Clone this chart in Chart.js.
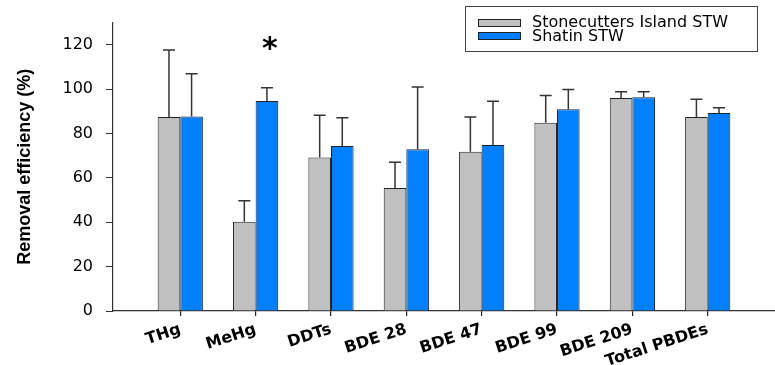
<!DOCTYPE html>
<html>
<head>
<meta charset="utf-8">
<script src="https://cdn.jsdelivr.net/npm/chart.js@4.4.1/dist/chart.umd.min.js"></script>
<style>
  html, body { margin: 0; padding: 0; background: #fff; }
  #wrap { width: 775px; height: 365px; }
</style>
</head>
<body>
<div id="wrap"><canvas id="myChart"></canvas></div>
<script>
const categories = ['THg', 'MeHg', 'DDTs', 'BDE 28', 'BDE 47', 'BDE 99', 'BDE 209', 'Total PBDEs']
const stonecutters = [87.5, 40.2, 69.2, 55.5, 71.8, 84.8, 96.0, 87.5]
const stonecuttersErr = [30.2, 9.5, 19.0, 11.5, 15.7, 12.3, 2.8, 7.9]
const shatin = [87.7, 94.7, 74.4, 72.9, 74.8, 90.9, 96.3, 89.3]
const shatinErr = [19.2, 5.9, 12.7, 28.1, 19.7, 8.9, 2.5, 2.3]
const sigMarks = ['', '*', '', '', '', '', '', '']
const yTicks = [0, 20, 40, 60, 80, 100, 120]

const ctx = document.getElementById('myChart').getContext('2d');

// upward error bars only
const errorBars = {
    id: 'errorBars',
    afterDatasetsDraw(chart) {
        const c = chart.ctx
        const y = chart.scales.y
        chart.data.datasets.forEach((ds, di) => {
            chart.getDatasetMeta(di).data.forEach((bar, i) => {
                const top = y.getPixelForValue(ds.data[i].y + ds.errors[i])
                c.save()
                c.strokeStyle = '#333'
                c.lineWidth = 1.5
                c.beginPath()
                c.moveTo(bar.x, bar.y)
                c.lineTo(bar.x, top)
                c.moveTo(bar.x - 6, top)
                c.lineTo(bar.x + 6, top)
                c.stroke()
                c.restore()
            })
        })
        // significance marks above the Shatin bar
        const meta = chart.getDatasetMeta(1)
        const ds = chart.data.datasets[1]
        sigMarks.forEach((m, i) => {
            if (!m) return
            const bar = meta.data[i]
            const top = y.getPixelForValue(ds.data[i].y + ds.errors[i])
            c.save()
            c.fillStyle = '#000'
            c.font = 'bold 30px "DejaVu Sans"'
            c.textAlign = 'center'
            c.textBaseline = 'middle'
            c.fillText(m, bar.x + 3, top - 38)
            c.restore()
        })
    }
}

// boxed legend in the top right corner
const boxLegend = {
    id: 'boxLegend',
    afterDraw(chart) {
        const c = chart.ctx
        c.save()
        c.strokeStyle = '#444'
        c.lineWidth = 1
        c.strokeRect(465.5, 6.5, 292, 45)
        chart.data.datasets.forEach((ds, k) => {
            c.fillStyle = ds.backgroundColor
            c.fillRect(478, 19 + k * 13, 42, 7)
            c.strokeStyle = '#222'
            c.strokeRect(478.5, 19.5 + k * 13, 42, 7)
            c.fillStyle = '#000'
            c.font = '16px "DejaVu Sans"'
            c.textBaseline = 'middle'
            c.fillText(ds.label, 532, 23 + k * 13.5)
        })
        c.restore()
    }
}

new Chart(ctx, {
    type: 'bar',
    data: {
        datasets: [{
            label: 'Stonecutters Island STW',
            data: stonecutters.map((v, i) => ({ x: i, y: v })),
            errors: stonecuttersErr,
            backgroundColor: '#c0c0c0',
            borderColor: '#222',
            borderWidth: 1
        }, {
            label: 'Shatin STW',
            data: shatin.map((v, i) => ({ x: i, y: v })),
            errors: shatinErr,
            backgroundColor: '#0080ff',
            borderColor: '#222',
            borderWidth: 1
        }]
    },
    options: {
        responsive: true,
        maintainAspectRatio: false,
        animation: false,
        categoryPercentage: 0.6,
        barPercentage: 1.0,
        layout: { padding: { top: 12, right: 0, left: 0, bottom: 0 } },
        plugins: {
            legend: { display: false },
            tooltip: { enabled: false }
        },
        scales: {
            x: {
                type: 'linear',
                offset: false,
                min: -0.893,
                max: 7.893,
                afterBuildTicks: s => { s.ticks = categories.map((c, i) => ({ value: i })) },
                afterFit: s => { s.height = 54 },
                grid: { offset: false, drawOnChartArea: false, tickLength: 5, color: '#222', lineWidth: 1.2 },
                border: { color: '#333', width: 1.2 },
                ticks: {
                    autoSkip: false,
                    minRotation: 18,
                    maxRotation: 18,
                    padding: 4,
                    color: '#000',
                    font: { family: 'DejaVu Sans', size: 16, weight: 'bold' },
                    callback: v => categories[v]
                }
            },
            y: {
                min: 0,
                max: 130,
                afterBuildTicks: s => { s.ticks = yTicks.map(v => ({ value: v })) },
                afterFit: s => { s.width = 113 },
                grid: { drawOnChartArea: false, tickLength: 7, color: '#333' },
                border: { color: '#333', width: 1.2 },
                ticks: {
                    padding: 13,
                    color: '#000',
                    font: { family: 'DejaVu Sans', size: 16 }
                },
                title: {
                    display: true,
                    text: 'Removal efficiency (%)',
                    color: '#000',
                    font: { family: 'Liberation Sans', size: 18, weight: 'bold' },
                    padding: { top: 14, bottom: 0 }
                }
            }
        }
    },
    plugins: [errorBars, boxLegend]
})
</script>
</body>
</html>
